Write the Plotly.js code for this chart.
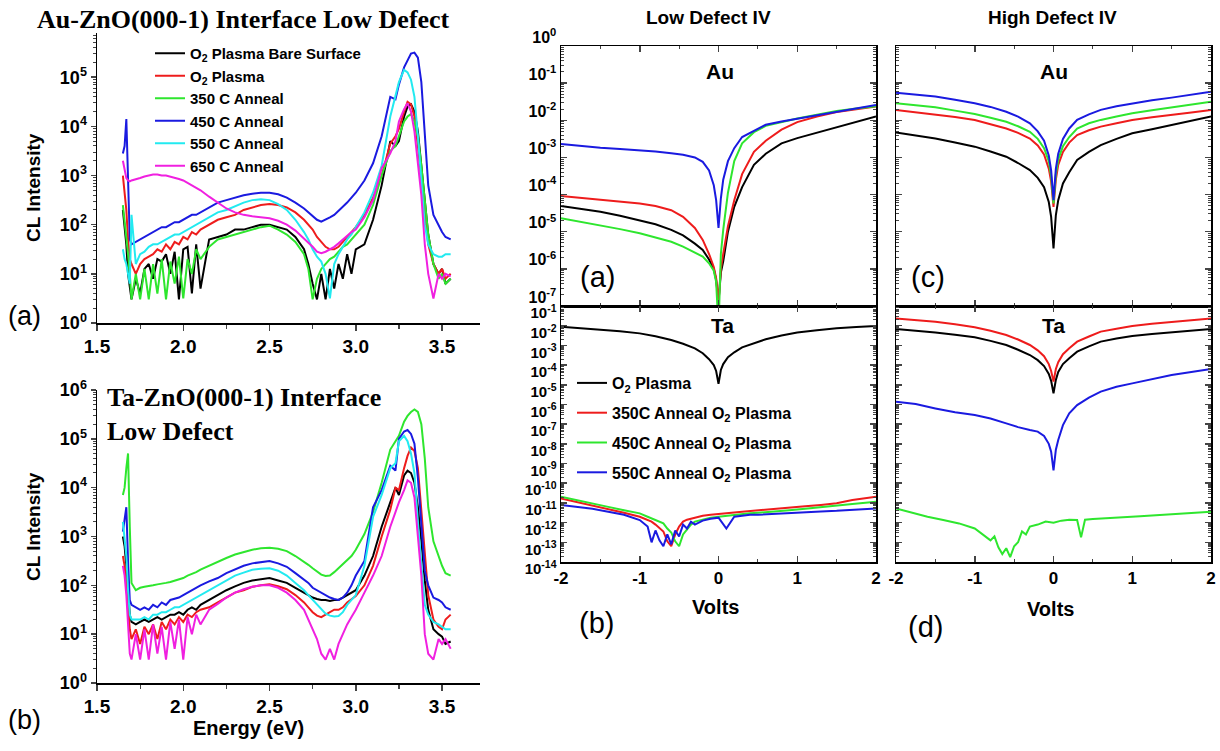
<!DOCTYPE html>
<html>
<head>
<meta charset="utf-8">
<script src="https://cdn.plot.ly/plotly-3.0.1.min.js"></script>
<style>html,body{margin:0;padding:0;background:#fff;}#chart{width:1220px;height:751px;}</style>
</head>
<body>
<div id="chart"></div>
<script>
// ---------- DATA (CL spectra: log10 of CL intensity) ----------
const energyGrid = [1.65,1.66,1.67,1.68,1.69,
  1.700,1.725,1.750,1.775,1.800,1.825,1.850,1.875,1.900,1.925,1.950,1.975,2.000,2.025,2.050,2.075,2.100,
  2.15,2.20,2.25,2.30,2.35,2.40,2.45,2.50,2.55,2.60,2.65,2.70,
  2.725,2.750,2.775,2.800,2.825,2.850,2.875,2.900,2.925,2.950,2.975,3.000,
  3.05,3.10,3.15,3.20,3.23,3.25,3.28,3.30,3.32,3.34,3.36,3.38,3.40,3.42,3.45,3.48,3.50,3.52,3.55];

// Panel (a) Au-ZnO(000-1)
const auBareLog = [2.3,2.0,1.6,1.0,0.7, 0.48,0.9,0.6,1.1,1.2, 0.9,1.3,1.25,1.4,1.0, 1.45,0.48,1.5,1.55,0.6,
  1.6,0.7,1.7,1.75,1.8, 1.9,1.9,1.95,2.0,2.0, 1.95,1.9,1.75,1.5,1.2, 0.8,0.48,1.0,0.48,1.1,
  0.7,1.2,0.9,1.4,1.0, 1.5,1.6,2.1,2.8,3.7, 3.6,3.7,4.2,4.4,4.45, 4.3,3.9,3.2,2.4,1.8, 1.2,1.0,1.1,0.8,0.9];
const auO2Log = [3.0,2.7,2.3,1.7,1.3, 1.2,1.0,1.2,1.3,1.35, 1.4,1.5,1.45,1.6,1.5, 1.65,1.6,1.75,1.7,1.85,
  1.8,1.9,2.0,2.1,2.15, 2.2,2.3,2.35,2.4,2.42, 2.4,2.35,2.25,2.1,2.0, 1.9,1.75,1.65,1.55,1.5,
  1.5,1.55,1.65,1.75,1.85, 1.95,2.2,2.55,3.0,3.65, 3.8,3.95,4.3,4.5,4.45, 4.2,3.6,2.9,2.2,1.6, 1.2,1.0,1.1,0.9,1.0];
const au350Log = [2.4,2.1,1.8,1.4,1.0, 0.48,1.0,0.48,1.1,0.48, 1.2,0.6,1.3,0.48,1.25, 0.8,1.35,0.5,1.3,1.0,
  1.5,1.3,1.55,1.7,1.75, 1.8,1.85,1.9,1.95,1.98, 1.9,1.8,1.65,1.4,1.1, 0.48,0.9,1.1,1.2,1.3,
  1.35,1.45,1.55,1.6,1.7, 1.8,2.0,2.4,3.0,3.5, 3.6,3.8,4.1,4.2,4.25, 4.1,3.8,3.2,2.5,1.8, 1.2,0.9,1.0,0.8,0.9];
const au450Log = [3.45,3.6,4.15,3.0,1.7, 1.6,1.65,1.7,1.75,1.8, 1.85,1.9,1.95,1.95,2.0, 2.05,2.05,2.1,2.15,2.2,
  2.2,2.25,2.35,2.45,2.5, 2.55,2.6,2.63,2.65,2.65, 2.62,2.55,2.45,2.33,2.25, 2.17,2.1,2.06,2.1,2.15,
  2.2,2.28,2.35,2.45,2.55, 2.65,2.9,3.25,3.8,4.6, 4.55,4.85,5.2,5.35,5.48, 5.5,5.4,4.9,3.8,2.8, 2.2,2.0,1.85,1.75,1.7];
const au550Log = [1.5,1.3,1.2,1.0,0.8, 2.2,1.2,1.4,1.45,1.55, 1.6,1.6,1.65,1.7,1.75, 1.8,1.8,1.85,1.9,1.95,
  2.0,2.05,2.15,2.25,2.3, 2.38,2.45,2.5,2.52,2.5, 2.42,2.3,2.1,1.85,1.7, 1.5,1.35,1.25,1.0,0.5,
  1.2,1.4,1.55,1.7,1.8, 1.95,2.25,2.65,3.2,4.2, 4.6,4.9,5.15,5.1,4.95, 4.6,3.8,2.9,2.0,1.6, 1.4,1.35,1.35,1.4,1.4];
const au650Log = [3.3,3.1,2.95,2.9,2.88, 2.9,2.92,2.95,2.98,3.0, 3.02,3.02,3.0,3.0,2.98, 2.95,2.93,2.9,2.85,2.8,
  2.75,2.7,2.57,2.45,2.33, 2.25,2.2,2.17,2.15,2.13, 2.08,2.0,1.88,1.72,1.62, 1.55,1.45,1.42,1.45,1.5,
  1.55,1.62,1.7,1.78,1.85, 1.9,2.15,2.5,3.15,3.45, 3.7,4.1,4.35,4.47,4.3, 3.9,3.3,2.6,1.6,1.0, 0.5,1.0,0.9,1.0,0.95];

// Panel (b) Ta-ZnO(000-1)
const taBareLog = [3.0,2.8,2.4,1.8,1.4, 1.25,1.2,1.25,1.3,1.25, 1.3,1.35,1.3,1.35,1.4, 1.4,1.45,1.4,1.5,1.55,
  1.5,1.6,1.7,1.8,1.9, 1.98,2.05,2.1,2.13,2.15, 2.1,2.05,1.95,1.85,1.8, 1.75,1.72,1.7,1.7,1.68,
  1.7,1.7,1.75,1.8,1.85, 1.9,2.2,2.6,3.2,3.7, 4.0,3.85,4.25,4.35,4.3, 4.1,3.6,2.9,2.1,1.5, 1.1,1.0,0.95,0.8,0.85];
const taO2Log = [2.6,2.4,2.0,1.5,1.1, 0.9,1.1,0.8,1.15,1.0, 1.2,0.9,1.25,1.1,1.3, 1.2,1.35,1.25,1.4,1.35,
  1.45,1.5,1.55,1.65,1.75, 1.85,1.9,1.97,2.0,2.02, 1.98,1.92,1.8,1.65,1.55, 1.45,1.38,1.35,1.4,1.45,
  1.5,1.5,1.55,1.65,1.72, 1.78,2.0,2.4,3.0,3.55, 4.0,3.95,4.4,4.65,4.82, 4.75,4.4,3.5,2.6,1.8, 1.3,1.15,1.1,1.3,1.4];
const ta350Log = [3.85,4.0,4.4,4.7,3.2, 2.05,1.9,1.95,1.97,1.98, 2.0,2.02,2.03,2.05,2.07, 2.1,2.12,2.15,2.2,2.23,
  2.27,2.32,2.4,2.49,2.56, 2.63,2.68,2.73,2.76,2.77, 2.75,2.7,2.6,2.49,2.42, 2.35,2.28,2.22,2.19,2.2,
  2.27,2.35,2.42,2.5,2.6, 2.73,3.05,3.5,4.1,4.78, 4.95,5.06,5.35,5.47,5.55, 5.6,5.55,5.3,4.6,3.6, 2.9,2.6,2.4,2.25,2.2];
const ta450Log = [3.1,3.4,3.6,2.5,1.7, 1.6,1.55,1.5,1.55,1.5, 1.6,1.55,1.65,1.6,1.7, 1.72,1.75,1.8,1.85,1.9,
  1.95,2.0,2.08,2.15,2.25, 2.33,2.4,2.45,2.48,2.5, 2.45,2.38,2.25,2.12,2.05, 1.95,1.9,1.85,1.8,1.75,
  1.72,1.7,1.75,1.85,2.0, 2.2,2.5,3.6,3.95,4.45, 4.35,5.0,5.15,5.18,5.1, 4.9,4.2,3.3,2.3,2.0, 1.75,1.7,1.65,1.55,1.5];
const ta550Log = [3.3,3.0,2.6,1.9,1.4, 1.3,1.3,1.3,1.35,1.3, 1.4,1.4,1.45,1.45,1.5, 1.55,1.55,1.6,1.65,1.7,
  1.75,1.8,1.9,2.0,2.1, 2.2,2.26,2.32,2.34,2.35, 2.3,2.2,2.05,1.9,1.8, 1.7,1.6,1.5,1.42,1.38,
  1.36,1.37,1.45,1.6,1.7, 1.8,2.4,3.4,3.85,4.4, 4.5,4.95,5.06,4.95,4.7, 4.3,3.3,2.4,1.6,1.4, 1.25,1.2,1.15,1.1,1.1];
const ta650Log = [2.4,2.2,1.8,1.2,0.6, 0.48,1.0,0.48,1.1,0.48, 1.2,0.6,1.15,0.48,1.25, 0.7,1.3,0.48,1.35,1.0,
  1.4,1.2,1.5,1.62,1.75, 1.85,1.92,1.97,2.0,2.0, 1.95,1.85,1.7,1.5,1.3, 1.1,0.9,0.6,0.48,0.7,
  0.48,0.8,1.0,1.2,1.35, 1.5,1.85,2.2,2.6,3.2, 3.5,3.7,3.95,4.15,4.1, 3.8,3.0,2.2,1.0,0.6, 0.48,0.9,0.8,0.9,0.7];

// ---------- DATA (IV curves: log10 of current) ----------
const voltGrid = [-2,-1.75,-1.5,-1.25,-1,-0.8,-0.6,-0.45,-0.3,-0.2,-0.12,-0.06,-0.03,0,0.03,0.06,0.12,0.2,0.3,0.45,0.6,0.8,1,1.25,1.5,1.75,2];
const voltNoisy = [-2,-1.8,-1.6,-1.4,-1.2,-1.0,-0.9,-0.85,-0.8,-0.75,-0.7,-0.65,-0.6,-0.55,-0.5,-0.45,-0.4,-0.35,-0.3,-0.2,-0.1,0,0.1,0.2,0.3,0.35,0.4,0.5,0.7,0.9,1.1,1.3,1.5,1.7,1.9,2];

// Low defect, Au
const lowAuO2 = [-4.31,-4.38,-4.46,-4.57,-4.69,-4.8,-4.95,-5.1,-5.32,-5.49,-5.75,-6.0,-6.3,-6.9,-6.1,-5.8,-5.0,-4.33,-3.8,-3.2,-2.9,-2.62,-2.48,-2.33,-2.2,-2.05,-1.9];
const lowAu350 = [-4.04,-4.09,-4.13,-4.18,-4.24,-4.31,-4.42,-4.6,-4.9,-5.22,-5.6,-5.95,-6.25,-6.9,-6.0,-5.6,-4.85,-4.15,-3.45,-2.85,-2.55,-2.25,-2.05,-1.9,-1.78,-1.7,-1.63];
const lowAu450 = [-4.64,-4.73,-4.82,-4.93,-5.04,-5.15,-5.27,-5.4,-5.55,-5.67,-5.85,-6.05,-6.35,-7.6,-5.6,-4.95,-3.95,-3.1,-2.62,-2.32,-2.15,-2.04,-1.95,-1.85,-1.75,-1.68,-1.62];
const lowAu550 = [-2.64,-2.7,-2.74,-2.77,-2.8,-2.84,-2.89,-2.93,-3.0,-3.12,-3.35,-3.75,-4.15,-4.9,-4.1,-3.6,-3.1,-2.75,-2.45,-2.28,-2.12,-2.03,-1.96,-1.87,-1.78,-1.68,-1.59];
// High defect, Au
const highAuO2 = [-2.33,-2.41,-2.49,-2.6,-2.71,-2.84,-2.98,-3.15,-3.34,-3.55,-3.8,-4.2,-4.6,-5.45,-4.55,-4.15,-3.7,-3.4,-3.07,-2.85,-2.67,-2.5,-2.35,-2.24,-2.13,-2.02,-1.9];
const highAu350 = [-1.72,-1.78,-1.83,-1.91,-1.99,-2.1,-2.22,-2.34,-2.49,-2.68,-2.92,-3.3,-3.65,-4.33,-3.6,-3.2,-2.85,-2.6,-2.4,-2.27,-2.17,-2.08,-1.99,-1.92,-1.86,-1.79,-1.72];
const highAu450 = [-1.54,-1.6,-1.65,-1.74,-1.83,-1.93,-2.04,-2.16,-2.31,-2.5,-2.75,-3.1,-3.5,-4.24,-3.45,-3.05,-2.7,-2.45,-2.22,-2.08,-1.99,-1.9,-1.81,-1.73,-1.65,-1.57,-1.5];
const highAu550 = [-1.26,-1.31,-1.36,-1.45,-1.54,-1.64,-1.77,-1.9,-2.08,-2.3,-2.55,-2.95,-3.35,-4.15,-3.3,-2.9,-2.5,-2.22,-1.99,-1.84,-1.72,-1.62,-1.54,-1.46,-1.39,-1.31,-1.23];
// Low defect, Ta
const lowTaO2 = [-2.05,-2.12,-2.19,-2.28,-2.39,-2.54,-2.73,-2.92,-3.15,-3.4,-3.7,-4.0,-4.3,-4.95,-4.25,-3.95,-3.6,-3.35,-3.1,-2.88,-2.69,-2.5,-2.35,-2.23,-2.13,-2.07,-2.02];
const lowTa350 = [-10.77,-10.95,-11.12,-11.3,-11.5,-11.7,-11.85,-11.95,-12.1,-12.3,-12.45,-12.95,-13.2,-12.6,-12.2,-11.95,-11.85,-11.8,-11.75,-11.65,-11.6,-11.55,-11.5,-11.48,-11.45,-11.43,-11.42,-11.38,-11.3,-11.22,-11.17,-11.1,-11.02,-10.85,-10.72,-10.69];
const lowTa450 = [-10.69,-10.85,-11.03,-11.2,-11.37,-11.53,-11.7,-11.78,-11.87,-11.95,-12.04,-12.3,-12.5,-12.95,-13.2,-12.6,-12.35,-12.1,-11.95,-11.85,-11.75,-11.7,-11.65,-11.6,-11.57,-11.55,-11.53,-11.5,-11.42,-11.37,-11.3,-11.23,-11.16,-11.06,-10.98,-10.94];
const lowTa550 = [-11.11,-11.2,-11.3,-11.45,-11.6,-11.87,-12.2,-13.0,-12.4,-12.9,-13.2,-12.6,-13.1,-12.4,-12.7,-12.1,-12.3,-11.95,-12.1,-11.9,-11.8,-11.75,-12.3,-11.7,-11.65,-11.62,-11.6,-11.6,-11.55,-11.5,-11.47,-11.43,-11.4,-11.35,-11.3,-11.28];
// High defect, Ta
const highTaO2 = [-2.17,-2.25,-2.34,-2.46,-2.59,-2.77,-2.98,-3.22,-3.49,-3.75,-4.05,-4.45,-4.8,-5.44,-4.75,-4.35,-3.95,-3.65,-3.32,-3.05,-2.81,-2.65,-2.52,-2.42,-2.34,-2.25,-2.17];
const highTa350 = [-1.63,-1.71,-1.8,-1.93,-2.08,-2.26,-2.47,-2.7,-2.98,-3.25,-3.55,-3.95,-4.3,-4.84,-4.2,-3.85,-3.45,-3.15,-2.81,-2.55,-2.3,-2.15,-2.02,-1.9,-1.8,-1.71,-1.63];
const highTa550 = [-5.86,-5.98,-6.2,-6.4,-6.54,-6.71,-6.96,-7.15,-7.3,-7.38,-7.6,-8.0,-8.4,-9.35,-8.3,-7.8,-7.05,-6.45,-6.03,-5.65,-5.35,-5.1,-4.93,-4.7,-4.5,-4.35,-4.2];
const highTa450 = [-11.28,-11.5,-11.7,-11.87,-12.04,-12.3,-12.6,-12.75,-12.9,-12.7,-13.25,-13.6,-13.3,-13.75,-13.2,-13.0,-12.45,-12.6,-12.2,-12.1,-11.95,-12.0,-11.9,-11.85,-11.87,-12.75,-11.85,-11.82,-11.78,-11.72,-11.68,-11.62,-11.58,-11.52,-11.47,-11.45];

const clNames = ['O<sub>2</sub> Plasma Bare Surface','O<sub>2</sub> Plasma','350 C Anneal','450 C Anneal','550 C Anneal','650 C Anneal'];
const ivNames = ['O<sub>2</sub> Plasma','350C Anneal O<sub>2</sub> Plasma','450C Anneal O<sub>2</sub> Plasma','550C Anneal O<sub>2</sub> Plasma'];
const energyTicks = [1.5,2.0,2.5,3.0,3.5];
const energyTickText = ['1.5','2.0','2.5','3.0','3.5'];
const voltTicks = [-2,-1,0,1,2];
const voltTickText = ['-2','-1','0','1','2'];

// ---------- STYLE ----------
const W = 1220, H = 751;
const SANS = 'Liberation Sans, Arial, sans-serif';
const SERIF = 'Liberation Serif, Times New Roman, serif';
const C = {black:'#000000', red:'#ee1c1c', green:'#2ee62e', blue:'#1a1ae0', cyan:'#22eaf0', magenta:'#f020e0'};
const clColors = [C.black, C.red, C.green, C.blue, C.cyan, C.magenta];
const ivColors = [C.black, C.red, C.green, C.blue];

const P = arr => arr.map(v => Math.pow(10, v));
const B = t => '<b>' + t + '</b>';
function decades(lo, hi) {
  const vals = [], text = [];
  for (let d = lo; d <= hi; d++) { vals.push(Math.pow(10, d)); text.push(B('10<sup>' + (d < 0 ? '-' + (-d) : d) + '</sup>')); }
  return {vals, text};
}
function minorLog(lo, hi) {
  const out = [];
  for (let d = lo; d < hi; d++) for (let k = 2; k <= 9; k++) out.push(k * Math.pow(10, d));
  return out;
}
function line(x, ylog, color, xa, ya, extra) {
  return Object.assign({type:'scatter', mode:'lines', x:x, y:P(ylog), xaxis:xa, yaxis:ya,
    line:{color:color, width:2}, showlegend:false, hoverinfo:'skip'}, extra || {});
}

const traces = [];
[auBareLog, auO2Log, au350Log, au450Log, au550Log, au650Log].forEach((s, i) =>
  traces.push(line(energyGrid, s, clColors[i], 'x', 'y', {name: B(clNames[i]), showlegend:true, legend:'legend'})));
[taBareLog, taO2Log, ta350Log, ta450Log, ta550Log, ta650Log].forEach((s, i) =>
  traces.push(line(energyGrid, s, clColors[i], 'x2', 'y2', {name: clNames[i]})));
[lowAuO2, lowAu350, lowAu450, lowAu550].forEach((s, i) =>
  traces.push(line(voltGrid, s, ivColors[i], 'x3', 'y3', {name: ivNames[i]})));
traces.push(line(voltGrid, lowTaO2, C.black, 'x4', 'y4', {name: B(ivNames[0]), showlegend:true, legend:'legend2', legendgroup:'g0'}));
traces.push(line(voltNoisy, lowTa350, C.red, 'x4', 'y4', {name: B(ivNames[1]), showlegend:true, legend:'legend2', legendgroup:'g1'}));
traces.push(line(voltNoisy, lowTa450, C.green, 'x4', 'y4', {name: B(ivNames[2]), showlegend:true, legend:'legend2', legendgroup:'g2'}));
traces.push(line(voltNoisy, lowTa550, C.blue, 'x4', 'y4', {name: B(ivNames[3]), showlegend:true, legend:'legend2', legendgroup:'g3'}));
[highAuO2, highAu350, highAu450, highAu550].forEach((s, i) =>
  traces.push(line(voltGrid, s, ivColors[i], 'x5', 'y5', {name: ivNames[i]})));
traces.push(line(voltGrid, highTaO2, C.black, 'x6', 'y6', {name: ivNames[0]}));
traces.push(line(voltGrid, highTa350, C.red, 'x6', 'y6', {name: ivNames[1]}));
traces.push(line(voltNoisy, highTa450, C.green, 'x6', 'y6', {name: ivNames[2]}));
traces.push(line(voltGrid, highTa550, C.blue, 'x6', 'y6', {name: ivNames[3]}));

const px = v => v / W, py = v => 1 - v / H;
const tickFontCL = {family:SANS, size:18, color:'#000'};
const tickFontIV = {family:SANS, size:16, color:'#000'};

function clX(domain, anchor) {
  return {domain, anchor, range:[1.5, 3.72], tickmode:'array', tickvals:energyTicks, ticktext:energyTickText.map(B),
    ticks:'outside', ticklen:6, tickwidth:1.5, showline:true, linewidth:1.5, linecolor:'#000', showgrid:false, zeroline:false,
    tickfont:Object.assign({}, tickFontCL, {size:19}), minor:{tickmode:'array', tickvals:[1.75,2.25,2.75,3.25], ticks:'outside', ticklen:4, tickwidth:1.2}};
}
function clY(domain, anchor, top, labTop) {
  const d = decades(0, labTop);
  return {domain, anchor, type:'log', range:[0, top], tickmode:'array', tickvals:d.vals, ticktext:d.text,
    ticks:'outside', ticklen:5, tickwidth:1.5, showline:true, linewidth:1.5, linecolor:'#000', showgrid:false, zeroline:false,
    tickfont:tickFontCL, minor:{tickmode:'array', tickvals:minorLog(0, 6), ticks:'outside', ticklen:3, tickwidth:1}};
}
function ivX(domain, anchor, labels) {
  return {domain, anchor, range:[-2, 2], tickmode:'array', tickvals:voltTicks, ticktext:voltTickText.map(B), showticklabels:labels,
    ticks:'inside', ticklen:6, tickwidth:1.5, showline:true, mirror:'allticks', linewidth:1.5, linecolor:'#000', showgrid:false, zeroline:false,
    tickfont:Object.assign({}, tickFontIV, {size:17}), minor:{tickmode:'array', tickvals:[-1.5,-0.5,0.5,1.5], ticks:'inside', ticklen:3, tickwidth:1}};
}
function ivY(domain, anchor, lo, hi, labels, shift, fsize) {
  const d = decades(lo, hi);
  return {domain, anchor, type:'log', range:[lo, hi], tickmode:'array', tickvals:d.vals, ticktext:d.text, showticklabels:labels,
    ticklabelshift:shift || 0,
    ticks:'inside', ticklen:6, tickwidth:1.5, showline:true, mirror:'allticks', linewidth:1.5, linecolor:'#000', showgrid:false, zeroline:false,
    tickfont:Object.assign({}, tickFontIV, {size: fsize || 16}), minor:{tickmode:'array', tickvals:minorLog(lo, hi), ticks:'inside', ticklen:3, tickwidth:1}};
}

const dCLx = [px(97), px(480)];
const dLowX = [px(561), px(876)];
const dHighX = [px(896), px(1211)];
const dA = [py(323), py(33)];
const dB = [py(683), py(390)];
const dAu = [py(306), py(46)];
const dTa = [py(562), py(306)];

function ann(text, x, y, size, extra) {
  return Object.assign({xref:'paper', yref:'paper', x:px(x), y:py(y), text, showarrow:false,
    font:{family:SANS, size, color:'#000'}, xanchor:'center', yanchor:'middle'}, extra || {});
}
const serifBold = {family:SERIF, size:26, color:'#000'};

const annotations = [
  ann(B('Au-ZnO(000-1) Interface Low Defect'), 243, 20, 26, {font:serifBold}),
  ann(B('Ta-ZnO(000-1) Interface<br>Low Defect'), 105, 381, 26, {xanchor:'left', yanchor:'top', align:'left', font:serifBold}),
  ann(B('CL Intensity'), 33, 188, 19, {textangle:-90}),
  ann(B('CL Intensity'), 33, 527, 19, {textangle:-90}),
  ann(B('Energy (eV)'), 248, 728, 20),
  ann('(a)', 24, 316, 27),
  ann('(b)', 25, 720, 27),
  ann(B('Low Defect IV'), 708, 18, 19),
  ann(B('High Defect IV'), 1052, 18, 19),
  ann(B('Au'), 720, 72, 21),
  ann(B('Au'), 1054, 72, 21),
  ann(B('Ta'), 722, 325, 21),
  ann(B('Ta'), 1053, 325, 21),
  ann('(a)', 597, 277, 29),
  ann('(c)', 928, 277, 29),
  ann('(b)', 596, 623, 29),
  ann('(d)', 925, 627, 29),
  ann(B('Volts'), 715, 607, 20),
  ann(B('Volts'), 1050, 609, 20)
];

const layout = {
  width: W, height: H, margin:{l:0, r:0, t:0, b:0},
  paper_bgcolor:'#fff', plot_bgcolor:'rgba(0,0,0,0)',
  xaxis: clX(dCLx, 'y'), yaxis: clY(dA, 'x', 5.9, 5),
  xaxis2: clX(dCLx, 'y2'), yaxis2: clY(dB, 'x2', 6, 6),
  xaxis3: ivX(dLowX, 'y3', false), yaxis3: ivY(dAu, 'x3', -7, 0, true, -9, 16),
  xaxis4: ivX(dLowX, 'y4', true), yaxis4: ivY(dTa, 'x4', -14, -1, true, 7, 15),
  xaxis5: ivX(dHighX, 'y5', false), yaxis5: ivY(dAu, 'x5', -7, 0, false),
  xaxis6: ivX(dHighX, 'y6', true), yaxis6: ivY(dTa, 'x6', -14, -1, false),
  legend: {x: px(150), y: py(37), xanchor:'left', yanchor:'top', bgcolor:'rgba(0,0,0,0)', borderwidth:0,
    font:{family:SANS, size:15, color:'#000'}, tracegroupgap:0},
  legend2: {x: px(572), y: py(366), xanchor:'left', yanchor:'top', bgcolor:'rgba(0,0,0,0)', borderwidth:0,
    font:{family:SANS, size:16, color:'#000'}, tracegroupgap:6, traceorder:'grouped'},
  annotations: annotations,
  showlegend: true
};

Plotly.newPlot('chart', traces, layout, {displayModeBar:false, staticPlot:true});
</script>
</body>
</html>
